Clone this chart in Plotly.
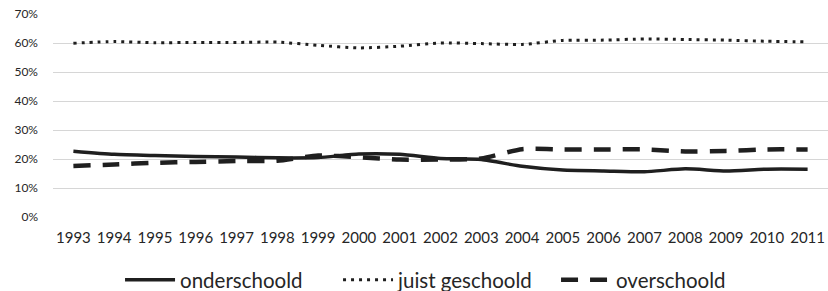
import plotly.graph_objects as go

years = list(range(1993, 2012))
onderschoold = [22.7, 21.6, 21.2, 20.9, 20.7, 20.4, 20.5, 21.7, 21.6, 20.2, 19.8, 17.5, 16.2, 15.9, 15.6, 16.6, 15.9, 16.5, 16.5]
juist_geschoold = [59.9, 60.5, 60.1, 60.2, 60.2, 60.3, 59.2, 58.3, 58.9, 60.0, 59.8, 59.5, 60.9, 61.0, 61.4, 61.2, 61.0, 60.6, 60.4]
overschoold = [17.6, 18.1, 18.7, 19.0, 19.3, 19.4, 21.2, 20.6, 19.8, 19.8, 20.2, 23.4, 23.3, 23.3, 23.3, 22.6, 22.8, 23.3, 23.3]
y_ticks = [0, 10, 20, 30, 40, 50, 60, 70]
y_ticktext = ["0%", "10%", "20%", "30%", "40%", "50%", "60%", "70%"]

LINE = "#1f1f1f"
FONT = "Lato"
TXT = "#262626"

fig = go.Figure()
fig.add_trace(go.Scatter(x=years, y=onderschoold, name="onderschoold", mode="lines",
                         line=dict(color=LINE, width=3.5, shape="spline", smoothing=0.6)))
fig.add_trace(go.Scatter(x=years, y=juist_geschoold, name="juist geschoold", mode="lines",
                         line=dict(color=LINE, width=3, dash="3px,5px", shape="spline", smoothing=0.6)))
fig.add_trace(go.Scatter(x=years, y=overschoold, name="overschoold", mode="lines",
                         line=dict(color=LINE, width=4.5, dash="17px,12px", shape="spline", smoothing=0.6)))

fig.update_layout(
    width=828, height=291,
    margin=dict(l=53, r=0, t=14, b=74, autoexpand=False),
    paper_bgcolor="white", plot_bgcolor="white",
    font=dict(family=FONT, color=TXT),
    showlegend=True,
    legend=dict(orientation="h", x=0.0865, xanchor="left",
                y=-0.31, yanchor="middle",
                font=dict(size=20.5, family=FONT, color=TXT),
                traceorder="normal", itemwidth=50, entrywidth=153, entrywidthmode="pixels"),
    xaxis=dict(range=[1992.5, 2011.5], tickmode="array", tickvals=years,
               ticktext=[str(y) for y in years], showgrid=False, zeroline=False,
               showline=False, ticks="", tickfont=dict(size=15, family=FONT, color=TXT),
               ticklabelstandoff=10, automargin=False, fixedrange=True),
    yaxis=dict(range=[0, 70], tickmode="array", tickvals=y_ticks, ticktext=y_ticktext,
               showgrid=True, gridcolor="#d6d6d6", gridwidth=1.3, zeroline=False,
               showline=False, ticks="", tickfont=dict(size=12, family=FONT, color=TXT),
               ticklabelstandoff=14, automargin=False, fixedrange=True),
)

fig.write_html("out.html", config={"displayModeBar": False},
               post_script="document.body.style.margin='0';document.body.style.padding='0';")
